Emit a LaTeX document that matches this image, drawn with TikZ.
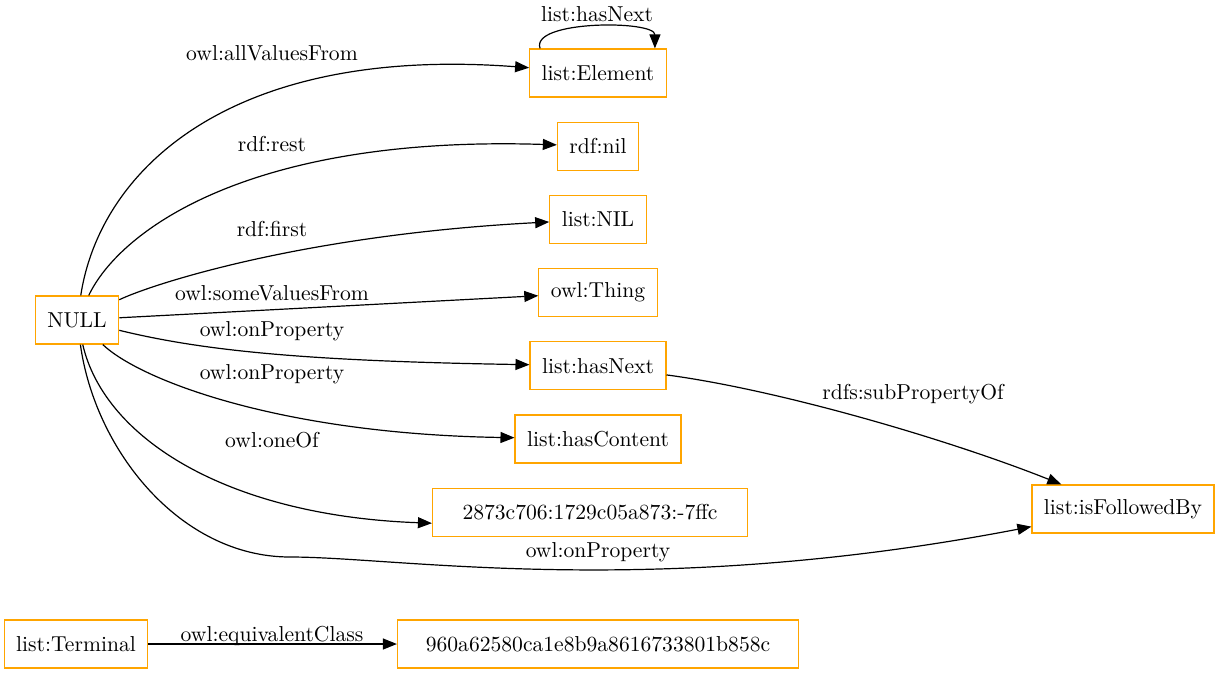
\documentclass[tikz,border=0pt]{standalone}
\usepackage{tikz}
\usetikzlibrary{arrows.meta, positioning}
\definecolor{boxorange}{HTML}{FFA500}

\begin{document}
\begin{tikzpicture}[
      x=0.5pt, y=-0.5pt,
      node distance=12pt,
      font=\fontsize{10.8}{13}\selectfont,
      box/.style={rectangle, draw=boxorange, line width=0.6pt, fill=white,
                  minimum height=24pt, inner xsep=6pt},
      lbl/.style={anchor=base, inner sep=0pt},
      arrow/.style={-{Triangle[length=7pt, width=5.5pt]}, line width=0.6pt, black}
    ]
    \useasboundingbox (0,0) rectangle (1221,675);

    \node[box] (null) at (77,320) {NULL};
    \node[box] (elem) at (598,73) {list:Element};
    \node[box, below=of elem] (rnil) {rdf:nil};
    \node[box, below=of rnil] (lnil) {list:NIL};
    \node[box, below=of lnil] (thing) {owl:Thing};
    \node[box, below=of thing] (hasnext) {list:hasNext};
    \node[box, below=of hasnext] (hascont) {list:hasContent};
    \node[box, below=of hascont, xshift=-4pt, minimum width=157.5pt] (anon) {2873c706:1729c05a873:-7ffc};
    \node[box] (isfol) at (1123,509) {list:isFollowedBy};
    \node[box] (term) at (76,644) {list:Terminal};
    \node[box, minimum width=200.5pt] (hash) at (598,644) {960a62580ca1e8b9a8616733801b858c};

    \draw[arrow] (null) .. controls (100,170) and (230,45) .. (elem);
    \draw[arrow] ([xshift=5.5pt]elem.north west) .. controls (530,20) and (655,20) .. ([xshift=-6pt]elem.north east);
    \draw[arrow] (null) .. controls (120,230) and (250,135) .. (rnil);
    \draw[arrow] (null) .. controls (150,285) and (300,235) .. (lnil);
    \draw[arrow] (null) -- (thing);
    \draw[arrow] (null) .. controls (200,350) and (300,361) .. (hasnext);
    \draw[arrow] (null) .. controls (140,380) and (280,434) .. (hascont);
    \draw[arrow] (null) .. controls (105,440) and (230,516) .. ([yshift=-5.5pt]anon.west);
    \draw[arrow] (null) .. controls (95,450) and (180,557) .. (290,557)
                        .. controls (400,557) and (650,600) .. (isfol);
    \draw[arrow] (hasnext) .. controls (780,390) and (950,440) .. (isfol);
    \draw[arrow] (term) -- (hash);

    \node[lbl] (l1) at (272,60) {owl:allValuesFrom};
    \node[lbl] (l2) at (597,21) {list:hasNext};
    \node[lbl] (l3) at (272,151) {rdf:rest};
    \node[lbl] (l4) at (272,236) {rdf:first};
    \node[lbl] (l5) at (272,300) {owl:someValuesFrom};
    \node[lbl] (l6) at (272,336) {owl:onProperty};
    \node[lbl] (l7) at (272,379) {owl:onProperty};
    \node[lbl] (l8) at (272,447) {owl:oneOf};
    \node[lbl] (l9) at (598,557) {owl:onProperty};
    \node[lbl] (l10) at (913,399) {rdfs:subPropertyOf};
    \node[lbl] (l11) at (272,641) {owl:equivalentClass};
  \end{tikzpicture}
\end{document}
